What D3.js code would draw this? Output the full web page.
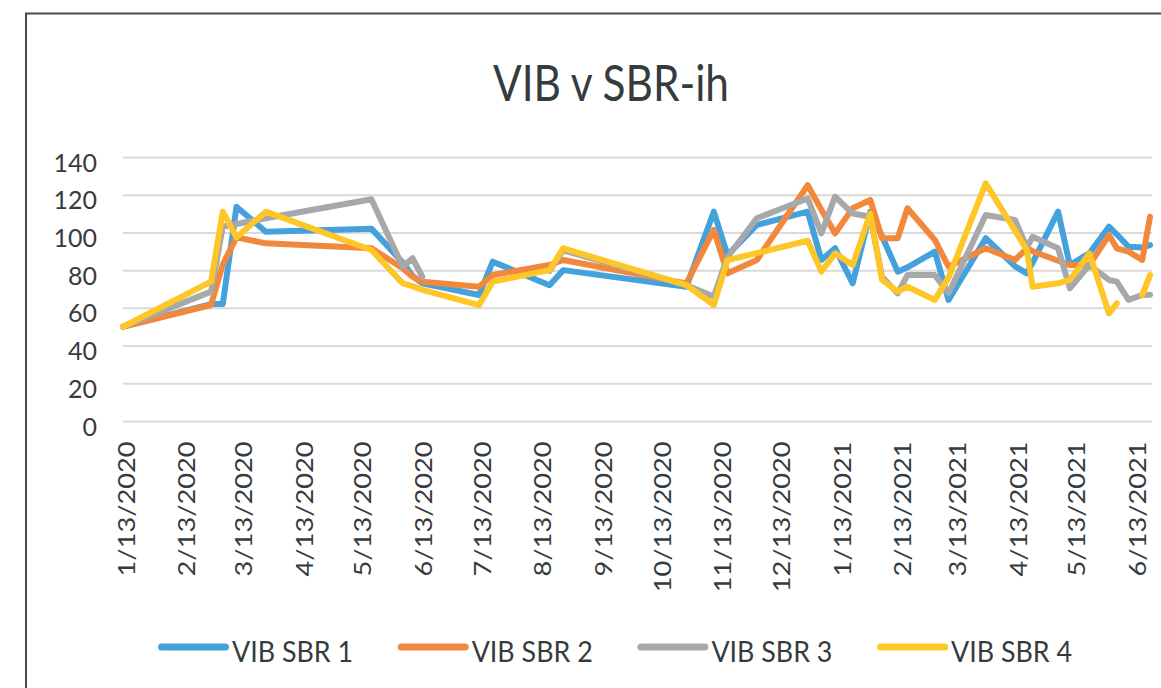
<!DOCTYPE html>
<html>
<head>
<meta charset="utf-8">
<script src="https://cdnjs.cloudflare.com/ajax/libs/d3/7.8.5/d3.min.js"></script>
<style>
  body { margin: 0; background: #fff; }
  svg text { font-family: Lato, 'Open Sans', sans-serif; fill: #363b3e; }
</style>
</head>
<body>
<svg id="chart" width="1161" height="688"></svg>
<script>
// sample dates shared by all four series
var dates = ['2020-01-13', '2020-02-27', '2020-03-04', '2020-03-11', '2020-03-26', '2020-05-19',
  '2020-06-04', '2020-06-09', '2020-06-14', '2020-07-13', '2020-07-20', '2020-08-18', '2020-08-25',
  '2020-10-27', '2020-11-10', '2020-11-17', '2020-12-02', '2020-12-28', '2021-01-04', '2021-01-11',
  '2021-01-20', '2021-01-29', '2021-02-04', '2021-02-12', '2021-02-17', '2021-03-03', '2021-03-10',
  '2021-03-29', '2021-04-13', '2021-04-19', '2021-04-22', '2021-05-05', '2021-05-11', '2021-05-21',
  '2021-05-31', '2021-06-04', '2021-06-10', '2021-06-17', '2021-06-21'];

var sbr1 = [50, 62, 62, 113.6, 100.4, 102, 84, 77, 73, 66.8, 84.5, 72, 80, 71.2, 111, 88, 104, 111,
  85.4, 91.6, 73, 111, 98, 79.2, 81.5, 89.8, 64.2, 96.9, 82, 78.3, 84, 111, 82.7, 89, 103, 99, 92.4, 92, 93.3];

var sbr2 = [50, 61.5, 83, 97.4, 94.2, 91.6, 81, 76.5, 73.9, 71.2, 77.4, 82.7, 85.4, 73, 101.3, 78.3, 85.4, 125,
  112, 99.5, 112.8, 117.2, 96.9, 96.9, 112.8, 96, 81.8, 91.6, 85.4, 91.6, 90, 85, 82.7, 82.7, 98.6, 91.6, 89.8, 85.4, 108.3];

var sbr3 = [50, 68.6, 103, 104.5, 107.5, 117.6, 81.8, 86.3, 76.5, null, null, 79.5, 90.5, 72, 66, 87, 107.5, 118,
  99.5, 119, 110, 108.3, 76.5, 67.7, 77.4, 77.4, 67.7, 109.2, 106.6, 92, 97.7, 91.6, 70.4, 82.7, 74.8, 73.9, 64.2, 66.8, 67];

var sbr4 = [50, 73.9, 111, 97.4, 111, 90.7, 73, 71.5, 69.5, 61.5, 73.9, 80, 91.6, 72.1, 61.5, 85.4, 89, 95.6,
  79.2, 88.9, 82.7, 110, 74.8, 68.6, 71.2, 64.2, 76, 126, 101, 90.7, 71.2, 73, 74.8, 88.9, 57, 62.4, null, 66.8, 77.4];

var seriesNames = ['VIB SBR 1', 'VIB SBR 2', 'VIB SBR 3', 'VIB SBR 4'];
var yTicks = [0, 20, 40, 60, 80, 100, 120, 140];
var xTickDates = ['2020-01-13', '2020-02-13', '2020-03-13', '2020-04-13', '2020-05-13', '2020-06-13',
  '2020-07-13', '2020-08-13', '2020-09-13', '2020-10-13', '2020-11-13', '2020-12-13', '2021-01-13',
  '2021-02-13', '2021-03-13', '2021-04-13', '2021-05-13', '2021-06-13'];

var colors = ['#45a1dc', '#f2883c', '#a6a8aa', '#ffc628'];

var parse = d3.timeParse('%Y-%m-%d');
var fmt = d3.timeFormat('%-m/%-d/%Y');

var plotLeft = 123, plotRight = 1152, plotTop = 157, plotBottom = 421;

var svg = d3.select('#chart');

// outer frame (top and left edges visible)
svg.append('path')
  .attr('d', 'M26,688 L26,13.5 L1161,13.5')
  .attr('fill', 'none')
  .attr('stroke', '#4a4a4a')
  .attr('stroke-width', 2);

svg.append('text')
  .attr('x', 611)
  .attr('y', 101)
  .attr('text-anchor', 'middle')
  .attr('font-size', 51)
  .attr('textLength', 236)
  .attr('lengthAdjust', 'spacingAndGlyphs')
  .text('VIB v SBR-ih');

var x = d3.scaleTime()
  .domain([parse('2020-01-13'), parse('2021-06-22')])
  .range([plotLeft, plotRight]);

var y = d3.scaleLinear()
  .domain([0, 140])
  .range([plotBottom, plotTop]);

// gridlines + y labels
var yAxis = d3.axisLeft(y)
  .tickValues(yTicks)
  .tickSize(-(plotRight - plotLeft))
  .tickPadding(26);

var gy = svg.append('g')
  .attr('transform', 'translate(' + plotLeft + ',0)')
  .call(yAxis);
gy.select('.domain').remove();
gy.selectAll('line')
  .attr('stroke', '#d9d9d9')
  .attr('stroke-width', 2);
gy.selectAll('text')
  .attr('font-size', 25)
  .attr('dy', 14)
  .style('font-family', 'Lato, sans-serif');

// x labels, rotated
var xLab = svg.append('g');
xLab.selectAll('text')
  .data(xTickDates)
  .enter()
  .append('text')
  .attr('font-size', 24)
  .attr('text-anchor', 'end')
  .attr('dy', 11.5)
  .text(function (d) { return fmt(parse(d)); });

var natural = xLab.select('text').node().getComputedTextLength();
var stretch = 135 / natural;
xLab.selectAll('text')
  .attr('transform', function (d) {
    return 'translate(' + x(parse(d)) + ',441.5) rotate(-90) scale(' + stretch + ',1)';
  });

// series lines
var allSeries = [sbr1, sbr2, sbr3, sbr4];
var line = d3.line()
  .defined(function (d) { return d.v !== null; })
  .x(function (d) { return x(d.t); })
  .y(function (d) { return y(d.v); });

svg.selectAll('.series')
  .data(allSeries)
  .enter()
  .append('path')
  .attr('class', 'series')
  .attr('d', function (vals) {
    return line(vals.map(function (v, i) { return { t: parse(dates[i]), v: v }; }));
  })
  .attr('fill', 'none')
  .attr('stroke', function (d, i) { return colors[i]; })
  .attr('stroke-width', 6)
  .attr('stroke-linejoin', 'round')
  .attr('stroke-linecap', 'round');

// legend
var legend = svg.append('g').attr('transform', 'translate(158,647)');
var item = legend.selectAll('g')
  .data(seriesNames)
  .enter()
  .append('g')
  .attr('transform', function (d, i) { return 'translate(' + i * 239.7 + ',0)'; });

item.append('line')
  .attr('x1', 3.5)
  .attr('x2', 67.5)
  .attr('stroke', function (d, i) { return colors[i]; })
  .attr('stroke-width', 7)
  .attr('stroke-linecap', 'round');

item.append('text')
  .attr('x', 74)
  .attr('y', 15)
  .attr('font-size', 28)
  .attr('textLength', 121)
  .attr('lengthAdjust', 'spacingAndGlyphs')
  .text(function (d) { return d; });
</script>
</body>
</html>
